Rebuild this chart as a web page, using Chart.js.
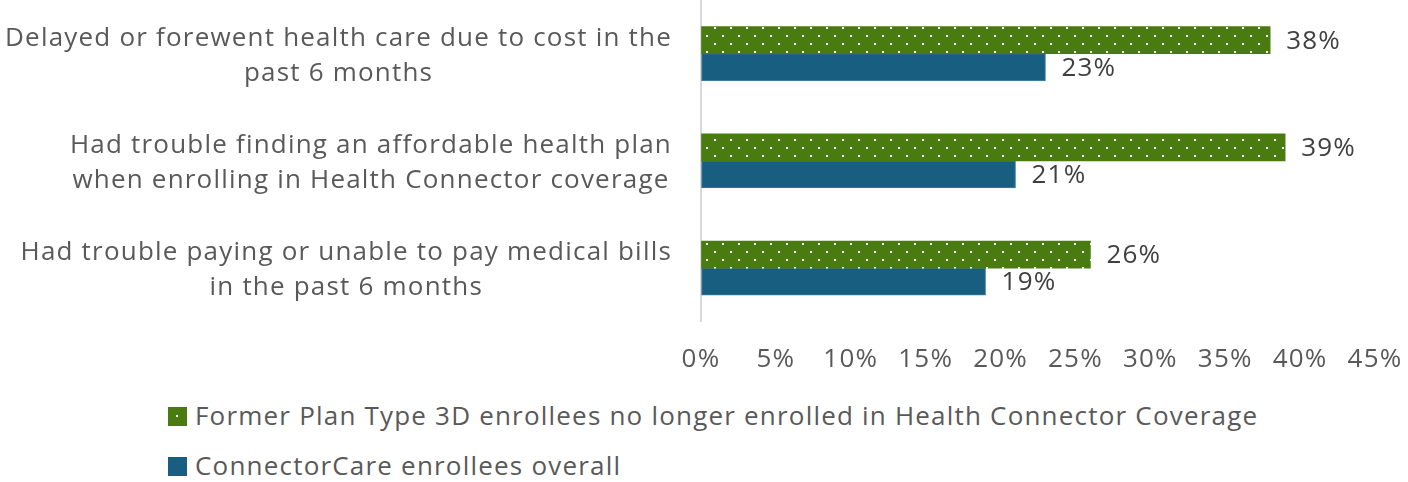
<!DOCTYPE html>
<html>
<head>
<meta charset="utf-8">
<script src="https://cdn.jsdelivr.net/npm/chart.js@4.4.1/dist/chart.umd.min.js"></script>
<style>
  body { margin: 0; background: #fff; font-family: "Open Sans", "Liberation Sans", sans-serif; }
  #wrap { position: relative; width: 1408px; height: 482px; }
  #chartBox { position: absolute; left: 0; top: 0; width: 1408px; height: 375px; }
  .legend { position: absolute; left: 168px; font-size: 26px; letter-spacing: 1.2px; color: #595959; line-height: 30px; white-space: nowrap; }
  .legend span.sw { display: inline-block; width: 19px; height: 19px; margin-right: 8px; vertical-align: -1px; }
  #lg1 { top: 400px; }
  #lg2 { top: 450px; }
</style>
</head>
<body>
<div id="wrap">
  <div id="chartBox"><canvas id="chart"></canvas></div>
  <div class="legend" id="lg1"><span class="sw" id="sw1"></span>Former Plan Type 3D enrollees no longer enrolled in Health Connector Coverage</div>
  <div class="legend" id="lg2"><span class="sw" id="sw2"></span>ConnectorCare enrollees overall</div>
</div>
<script>
const categories = [
  ['Delayed or forewent health care due to cost in the', 'past 6 months'],
  ['Had trouble finding an affordable health plan', 'when enrolling in Health Connector coverage'],
  ['Had trouble paying or unable to pay medical bills', 'in the past 6 months']
];
const seriesNames = [
  'Former Plan Type 3D enrollees no longer enrolled in Health Connector Coverage',
  'ConnectorCare enrollees overall'
];
const formerPlan3D = [38, 39, 26];
const connectorCare = [23, 21, 19];
const xTicks = [0, 5, 10, 15, 20, 25, 30, 35, 40, 45];

const GREEN = '#4a7b10';
const BLUE = '#175e80';
const TEXT = '#595959';
const FONT = '"Open Sans", "Liberation Sans", sans-serif';
const SPACING = '1.2px';

// dotted green fill
function dotPattern() {
  const c = document.createElement('canvas');
  c.width = 16; c.height = 16;
  const g = c.getContext('2d');
  g.fillStyle = GREEN;
  g.fillRect(0, 0, 16, 16);
  g.fillStyle = '#ffffff';
  g.fillRect(2, 3, 2, 2);
  g.fillRect(10, 11, 2, 2);
  return g.createPattern(c, 'repeat');
}

const sw1 = document.getElementById('sw1').style;
sw1.backgroundColor = GREEN;
sw1.backgroundImage = 'linear-gradient(#fff, #fff)';
sw1.backgroundSize = '2px 2px';
sw1.backgroundPosition = '8px 8px';
sw1.backgroundRepeat = 'no-repeat';
document.getElementById('sw2').style.backgroundColor = BLUE;

// wider tracking for all canvas text
const tracking = {
  id: 'tracking',
  beforeInit(chart) { chart.ctx.letterSpacing = SPACING; },
  beforeDraw(chart) { chart.ctx.letterSpacing = SPACING; }
};

// category labels: block right-aligned, lines centred within block
const catLabels = {
  id: 'catLabels',
  afterDraw(chart) {
    const ctx = chart.ctx;
    const y = chart.scales.y;
    ctx.save();
    ctx.letterSpacing = SPACING;
    ctx.font = '26px ' + FONT;
    ctx.fillStyle = TEXT;
    ctx.textAlign = 'center';
    ctx.textBaseline = 'middle';
    const right = 672;
    const lh = 35;
    categories.forEach((lines, i) => {
      const w = Math.max(...lines.map(l => ctx.measureText(l).width));
      const cx = right - w / 2;
      const cy = y.getPixelForValue(i) + 2;
      lines.forEach((l, j) => {
        ctx.fillText(l, cx, cy + (j - (lines.length - 1) / 2) * lh);
      });
    });
    ctx.restore();
  }
};

// value labels at bar ends
const valueLabels = {
  id: 'valueLabels',
  afterDatasetsDraw(chart) {
    const ctx = chart.ctx;
    ctx.save();
    ctx.letterSpacing = SPACING;
    ctx.font = '26px ' + FONT;
    ctx.fillStyle = '#404040';
    ctx.textAlign = 'left';
    ctx.textBaseline = 'middle';
    chart.data.datasets.forEach((ds, di) => {
      chart.getDatasetMeta(di).data.forEach((bar, i) => {
        ctx.fillText(ds.data[i] + '%', bar.x + 16, bar.y + 1);
      });
    });
    ctx.restore();
  }
};

new Chart(document.getElementById('chart'), {
  type: 'bar',
  data: {
    labels: categories,
    datasets: [
      { label: seriesNames[0], data: formerPlan3D, backgroundColor: dotPattern(), barThickness: 27 },
      { label: seriesNames[1], data: connectorCare, backgroundColor: BLUE, borderColor: '#3f7d9c', borderWidth: 1, borderSkipped: false, barThickness: 27 }
    ]
  },
  options: {
    indexAxis: 'y',
    responsive: true,
    maintainAspectRatio: false,
    animation: false,
    layout: { padding: { left: 0, right: 33, top: 0, bottom: 0 } },
    plugins: { legend: { display: false }, tooltip: { enabled: false } },
    scales: {
      x: {
        min: 0, max: 45,
        afterBuildTicks(scale) { scale.ticks = xTicks.map(v => ({ value: v })); },
        grid: { display: true, drawOnChartArea: false, drawTicks: true, tickLength: 22, color: 'rgba(0,0,0,0)' },
        border: { display: false },
        ticks: {
          padding: 0,
          color: TEXT,
          font: { size: 26, family: FONT },
          callback: v => v + '%'
        }
      },
      y: {
        grid: { display: false, drawTicks: false },
        border: { display: true, color: '#d9d9d9', width: 2 },
        ticks: { display: false },
        afterFit(scale) { scale.width = 701; }
      }
    }
  },
  plugins: [tracking, catLabels, valueLabels]
});
</script>
</body>
</html>
